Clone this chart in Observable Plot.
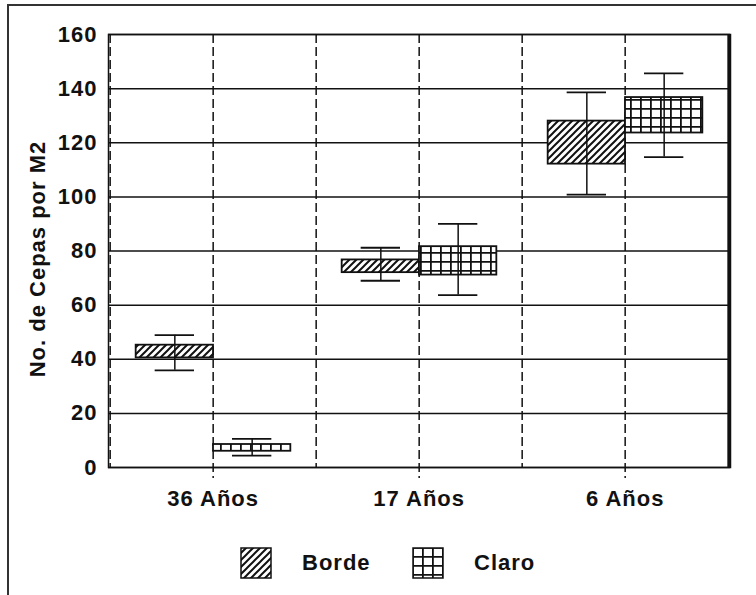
<!DOCTYPE html>
<html>
<head>
<meta charset="utf-8">
<script src="https://cdn.jsdelivr.net/npm/d3@7"></script>
<script src="https://cdn.jsdelivr.net/npm/@observablehq/plot@0.6"></script>
<style>
  body { margin: 0; background: #fff; }
  #wrap { position: relative; width: 756px; height: 595px; overflow: hidden; background: #fff;
          font-family: "Liberation Sans", Arial, sans-serif; font-weight: bold; color: #111; }
  #bt { position: absolute; left: 7px; top: 4px; width: 760px; height: 0; border-top: 2px solid #333; }
  #bl { position: absolute; left: 7px; top: 4px; width: 0; height: 600px; border-left: 2px solid #333; }
  #chart { position: absolute; left: 0; top: 0; }
  .lg { position: absolute; }
  .lgt { position: absolute; font-size: 22px; letter-spacing: 1px; line-height: 1; }
</style>
</head>
<body>
<svg width="0" height="0" style="position:absolute">
  <defs>
    <pattern id="hatch" patternUnits="userSpaceOnUse" width="7" height="7">
      <rect width="7" height="7" fill="#fff"/>
      <path d="M-2,2 L2,-2 M0,7 L7,0 M5,9 L9,5" stroke="#111" stroke-width="2"/>
    </pattern>
    <pattern id="gridp" patternUnits="userSpaceOnUse" width="10" height="9">
      <rect width="10" height="9" fill="#fff"/>
      <path d="M0,0.9 H10 M0.9,0 V9" stroke="#111" stroke-width="1.8"/>
    </pattern>
  </defs>
</svg>
<div id="wrap">
  <div id="bt"></div>
  <div id="bl"></div>
  <div id="chart"></div>
  <div id="legend"></div>
</div>
<script>
// ---- data ----
const groups = ["36 Años", "17 Años", "6 Años"];
const series = ["Borde", "Claro"];
const yTicks = [0, 20, 40, 60, 80, 100, 120, 140, 160];
const yTitle = "No. de Cepas por M2";

const bordeBoxLow  = [40.5, 72.0, 112.1];
const bordeBoxHigh = [45.2, 76.7, 128.0];
const bordeMin     = [35.9, 69.0, 100.8];
const bordeMax     = [48.9, 81.2, 138.6];

const claroBoxLow  = [6.0, 71.1, 123.6];
const claroBoxHigh = [8.5, 81.6, 136.7];
const claroMin     = [4.4, 63.7, 114.7];
const claroMax     = [10.6, 90.0, 145.6];

const patterns = {Borde: "url(#hatch)", Claro: "url(#gridp)"};

// ---- table ----
const key = (g, s) => g + "|" + s;
const borde = groups.map((g, i) => ({key: key(g, "Borde"), low: bordeBoxLow[i], high: bordeBoxHigh[i], min: bordeMin[i], max: bordeMax[i]}));
const claro = groups.map((g, i) => ({key: key(g, "Claro"), low: claroBoxLow[i], high: claroBoxHigh[i], min: claroMin[i], max: claroMax[i]}));
const keys = groups.flatMap(g => series.map(s => key(g, s)));

// ---- layout ----
const W = 756, H = 520, mL = 108, mR = 26, mT = 34, mB = 53;
const bw = (W - mL - mR) / keys.length;   // band width
const boxW = 78, capW = 40;
const inset = bw - boxW;
const off = bw / 2 - (inset + boxW / 2); // whisker offset from band center
const ink = "#111";
const dash = "9,4";
const fs = 22;

const chart = Plot.plot({
  width: W, height: H,
  marginLeft: mL, marginRight: mR, marginTop: mT, marginBottom: mB,
  style: {fontFamily: "Liberation Sans, Arial, sans-serif", fontSize: fs + "px", fontWeight: "bold", color: ink, background: "transparent", letterSpacing: "1px"},
  x: {type: "band", domain: keys, padding: 0, axis: null},
  y: {domain: [yTicks[0], yTicks[yTicks.length - 1]], ticks: yTicks, tickSize: 0, tickPadding: 11, label: null, tickFormat: d => String(d)},
  marks: [
    Plot.ruleY(yTicks, {stroke: ink, strokeWidth: 1.5}),
    Plot.ruleX(keys.filter(k => k.endsWith("Borde")), {x: d => d, dx: -bw / 2, stroke: ink, strokeWidth: 1.5, strokeDasharray: dash}),
    Plot.ruleX(keys.filter(k => k.endsWith("Claro")), {x: d => d, dx: -bw / 2, stroke: ink, strokeWidth: 1.5, strokeDasharray: dash, insetBottom: -11}),
    Plot.frame({stroke: ink, strokeWidth: 1.5}),
    Plot.ruleX([keys[keys.length - 1]], {x: d => d, dx: bw / 2, stroke: ink, strokeWidth: 3}),
    // boxes
    Plot.barY(borde, {x: "key", y1: "low", y2: "high", fill: patterns.Borde, stroke: ink, strokeWidth: 1.8, insetLeft: inset, insetRight: 0}),
    Plot.barY(claro, {x: "key", y1: "low", y2: "high", fill: patterns.Claro, stroke: ink, strokeWidth: 1.8, insetLeft: 0, insetRight: inset}),
    // whiskers
    Plot.ruleX(borde, {x: "key", y1: "min", y2: "max", dx: -off, stroke: ink, strokeWidth: 1.5}),
    Plot.ruleX(claro, {x: "key", y1: "min", y2: "max", dx: off, stroke: ink, strokeWidth: 1.5}),
    Plot.tickY(borde, {x: "key", y: "min", stroke: ink, strokeWidth: 1.8, insetLeft: inset + (boxW - capW) / 2, insetRight: (boxW - capW) / 2}),
    Plot.tickY(borde, {x: "key", y: "max", stroke: ink, strokeWidth: 1.8, insetLeft: inset + (boxW - capW) / 2, insetRight: (boxW - capW) / 2}),
    Plot.tickY(claro, {x: "key", y: "min", stroke: ink, strokeWidth: 1.8, insetRight: inset + (boxW - capW) / 2, insetLeft: (boxW - capW) / 2}),
    Plot.tickY(claro, {x: "key", y: "max", stroke: ink, strokeWidth: 1.8, insetRight: inset + (boxW - capW) / 2, insetLeft: (boxW - capW) / 2}),
    // group labels
    Plot.text(groups, {x: g => key(g, "Claro"), dx: -bw / 2, frameAnchor: "bottom", dy: 38, text: d => d, fill: ink, fontSize: fs, fontWeight: "bold"}),
    // y title
    Plot.text([yTitle], {frameAnchor: "left", textAnchor: "middle", rotate: -90, dx: -71, dy: 8, text: d => d, fill: ink, fontSize: fs, fontWeight: "bold"})
  ]
});
document.getElementById("chart").appendChild(chart);

// ---- legend ----
const legend = document.getElementById("legend");
const lgPos = [{sx: 240, tx: 302}, {sx: 412, tx: 474}];
series.forEach((s, i) => {
  const sw = document.createElementNS("http://www.w3.org/2000/svg", "svg");
  sw.setAttribute("width", 32); sw.setAttribute("height", 32);
  sw.setAttribute("class", "lg");
  sw.style.left = lgPos[i].sx + "px"; sw.style.top = "547px";
  const r = document.createElementNS("http://www.w3.org/2000/svg", "rect");
  r.setAttribute("x", 1); r.setAttribute("y", 1); r.setAttribute("width", 30); r.setAttribute("height", 30);
  r.setAttribute("fill", patterns[s]); r.setAttribute("stroke", ink); r.setAttribute("stroke-width", 1.5);
  sw.appendChild(r);
  legend.appendChild(sw);
  const t = document.createElement("div");
  t.className = "lgt"; t.textContent = s;
  t.style.left = lgPos[i].tx + "px"; t.style.top = "552px";
  legend.appendChild(t);
});
</script>
</body>
</html>
